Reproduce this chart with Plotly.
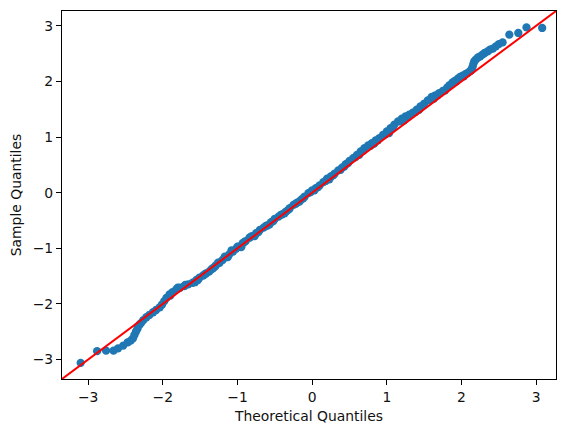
import plotly.graph_objects as go

# values
theoretical = [
    -3.10, -2.88, -2.76, -2.66, -2.60, -2.53, -2.47, -2.43, -2.40, -2.38,
    -2.36, -2.34, -2.33, -2.31, -2.29, -2.26, -2.22, -2.18, -2.13, -2.09,
    -2.04, -2.01, -1.98, -1.95, -1.91, -1.87, -1.82, -1.77, -1.71, -1.66,
    -1.60, -1.55, -1.51, -1.46, -1.42, -1.38, -1.33, -1.29, -1.24, -1.20,
    -1.15, -1.11, -1.06, -1.02, -0.98, -0.93, -0.89, -0.84, -0.80, -0.75,
    -0.70, -0.65, -0.60, -0.55, -0.50, -0.45, -0.40, -0.35, -0.30, -0.25,
    -0.20, -0.15, -0.10, -0.05, 0.00, 0.05, 0.10, 0.15, 0.20, 0.25,
    0.30, 0.35, 0.40, 0.45, 0.50, 0.55, 0.60, 0.65, 0.70, 0.75,
    0.80, 0.85, 0.90, 0.95, 1.00, 1.05, 1.10, 1.15, 1.20, 1.25,
    1.30, 1.35, 1.40, 1.45, 1.50, 1.55, 1.60, 1.65, 1.70, 1.75,
    1.81, 1.84, 1.88, 1.91, 1.95, 1.98, 2.01, 2.05, 2.08, 2.11,
    2.13, 2.14, 2.15, 2.16, 2.17, 2.19, 2.22, 2.25, 2.28, 2.31,
    2.35, 2.38, 2.42, 2.46, 2.50, 2.55, 2.64, 2.76, 2.87, 3.08,
    # second pass through the thick middle of the band
    -1.90, -1.80, -1.70, -1.57, -1.44, -1.35, -1.26, -1.17, -1.08, -1.00,
    -0.91, -0.82, -0.72, -0.62, -0.52, -0.42, -0.32, -0.22, -0.12, -0.02,
    0.08, 0.18, 0.28, 0.38, 0.48, 0.58, 0.68, 0.78, 0.88, 0.98,
    1.08, 1.18, 1.28, 1.38, 1.48, 1.58, 1.68, 1.78, 1.93, 2.03,
    # third pass, lower edge of the band
    -1.53, -1.31, -1.13, -0.95, -0.77, -0.57, -0.37, -0.17, 0.03, 0.23,
    0.43, 0.63, 0.83, 1.03, 1.23, 1.43, 1.63,
]
sample = [
    -3.06, -2.85, -2.84, -2.84, -2.80, -2.75, -2.69, -2.66, -2.62, -2.56,
    -2.50, -2.45, -2.40, -2.37, -2.34, -2.29, -2.24, -2.20, -2.15, -2.11,
    -2.06, -2.01, -1.95, -1.89, -1.83, -1.79, -1.74, -1.71, -1.68, -1.65,
    -1.62, -1.57, -1.53, -1.49, -1.45, -1.42, -1.36, -1.31, -1.26, -1.21,
    -1.16, -1.11, -1.06, -1.01, -0.97, -0.91, -0.87, -0.81, -0.78, -0.73,
    -0.67, -0.63, -0.59, -0.53, -0.47, -0.43, -0.39, -0.34, -0.28, -0.22,
    -0.18, -0.13, -0.07, -0.01, 0.04, 0.08, 0.13, 0.19, 0.25, 0.29,
    0.34, 0.40, 0.45, 0.51, 0.57, 0.62, 0.68, 0.74, 0.80, 0.85,
    0.89, 0.94, 0.98, 1.04, 1.10, 1.16, 1.22, 1.28, 1.33, 1.37,
    1.40, 1.44, 1.49, 1.55, 1.60, 1.66, 1.72, 1.75, 1.79, 1.83,
    1.89, 1.93, 1.98, 2.01, 2.05, 2.08, 2.10, 2.13, 2.15, 2.18,
    2.20, 2.23, 2.27, 2.32, 2.36, 2.39, 2.43, 2.45, 2.48, 2.51,
    2.54, 2.57, 2.59, 2.63, 2.67, 2.70, 2.84, 2.87, 2.97, 2.96,
    -1.85, -1.71, -1.66, -1.61, -1.47, -1.38, -1.26, -1.15, -1.04, -0.97,
    -0.89, -0.79, -0.71, -0.60, -0.51, -0.40, -0.31, -0.20, -0.10, 0.01,
    0.10, 0.21, 0.31, 0.41, 0.53, 0.64, 0.75, 0.84, 0.94, 1.05,
    1.17, 1.28, 1.36, 1.45, 1.56, 1.67, 1.75, 1.84, 2.00, 2.09,
    -1.57, -1.34, -1.16, -0.98, -0.78, -0.57, -0.37, -0.16, 0.04, 0.24,
    0.47, 0.68, 0.88, 1.07, 1.30, 1.49, 1.69,
]

axis_lim = [-3.35, 3.265]
ticks = [-3, -2, -1, 0, 1, 2, 3]

fig = go.Figure()
fig.add_trace(go.Scatter(
    x=theoretical, y=sample, mode='markers',
    marker=dict(color='#1f77b4', size=8.3, line=dict(width=0)),
    showlegend=False,
))
# 45 degree reference line across the axes
fig.add_trace(go.Scatter(
    x=axis_lim, y=axis_lim, mode='lines',
    line=dict(color='#ff0000', width=2),
    showlegend=False,
))

text_font = dict(family='DejaVu Sans', size=13.9, color='#111')
axis_style = dict(
    range=axis_lim, tickvals=ticks, ticks='outside', ticklen=5, tickwidth=1.1,
    tickcolor='black', showline=True, linecolor='black', linewidth=1.1,
    mirror=True, showgrid=False, zeroline=False, automargin=False,
    tickfont=text_font,
)
fig.update_xaxes(**axis_style, title=dict(text='Theoretical Quantiles', standoff=7, font=text_font))
fig.update_yaxes(**axis_style, title=dict(text='Sample Quantiles', standoff=7, font=text_font))

fig.update_layout(
    width=566, height=433,
    margin=dict(l=62, r=10, t=11, b=54),
    plot_bgcolor='white', paper_bgcolor='white',
)

# drop the browser's default page margin so the figure starts at the corner
fig.write_html("out.html", config={'displayModeBar': False},
               post_script="document.body.style.margin='0';")
